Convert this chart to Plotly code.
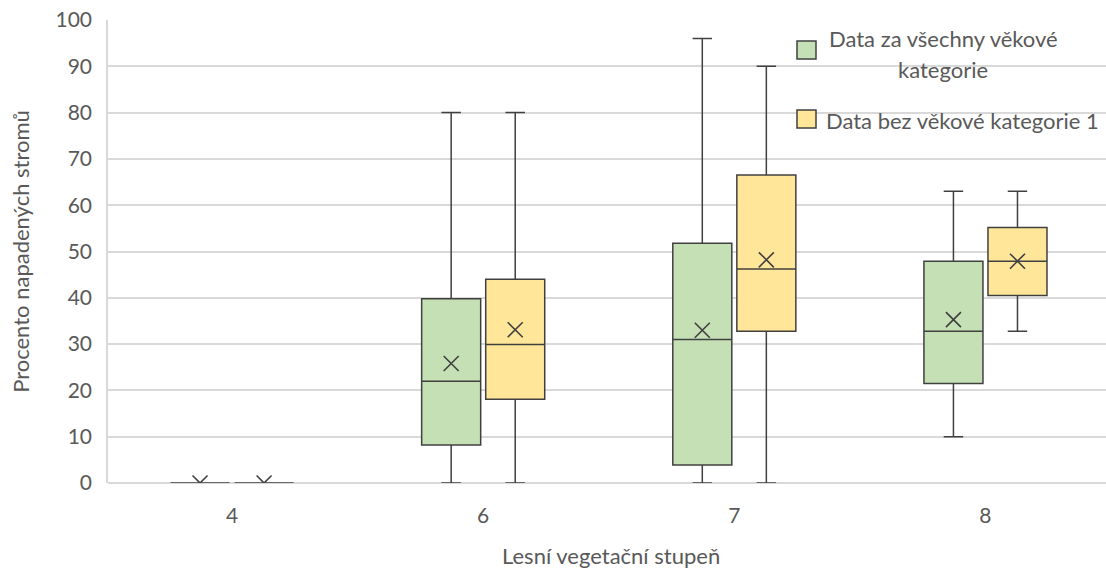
import plotly.graph_objects as go

# ---- data ----
categories = ["4", "6", "7", "8"]

all_lower = [0, 0, 0, 10]
all_q1 = [0, 8.2, 3.9, 21.5]
all_median = [0, 22.0, 31.0, 32.8]
all_q3 = [0, 39.8, 51.8, 47.9]
all_upper = [0, 80, 96, 63]
all_mean = [0, 25.8, 33.0, 35.3]

sub_lower = [0, 0, 0, 32.8]
sub_q1 = [0, 18.1, 32.8, 40.5]
sub_median = [0, 29.9, 46.2, 47.9]
sub_q3 = [0, 44.0, 66.5, 55.2]
sub_upper = [0, 80, 90, 63]
sub_mean = [0, 33.1, 48.2, 47.9]

series_names = ["Data za všechny věkové kategorie", "Data bez věkové kategorie 1"]
x_title = "Lesní vegetační stupeň"
y_title = "Procento napadených stromů"

# ---- styling ----
FONT = "Lato"
TXT = "#595959"
GRID = "#D9D9D9"
LINE = "#404040"
GREEN = "#C5E0B4"
YELLOW = "#FFE699"
FS_TICK = 21
FS_TXT = 22

W, H = 1106, 572
L, R, T, B = 108, 0, 20, 89
PW, PH = W - L - R, H - T - B

OFF = 0.1275
BW = 0.235

pos = list(range(len(categories)))
x_all = [p - OFF for p in pos]
x_sub = [p + OFF for p in pos]

fig = go.Figure()

for xs, lo, q1, me, q3, up, fill, name in [
    (x_all, all_lower, all_q1, all_median, all_q3, all_upper, GREEN, series_names[0]),
    (x_sub, sub_lower, sub_q1, sub_median, sub_q3, sub_upper, YELLOW, series_names[1]),
]:
    fig.add_trace(go.Box(
        x=xs, q1=q1, median=me, q3=q3, lowerfence=lo, upperfence=up,
        width=BW, whiskerwidth=0.33, fillcolor=fill,
        line=dict(color=LINE, width=1.5), name=name, showlegend=False,
        boxpoints=False, hoverinfo="skip",
    ))

for xs, mn in [(x_all, all_mean), (x_sub, sub_mean)]:
    fig.add_trace(go.Scatter(
        x=xs, y=mn, mode="markers", showlegend=False, hoverinfo="skip",
        cliponaxis=True,
        marker=dict(symbol="x-thin", size=15, line=dict(color=LINE, width=1.6)),
    ))

# ---- custom legend (paper coords from pixel positions) ----
def px_x(px):
    return (px - L) / PW

def px_y(py):
    return (H - B - py) / PH

shapes = []
annotations = []
for (y0, y1), fill in [((41, 59), GREEN), ((110, 128), YELLOW)]:
    shapes.append(dict(type="rect", xref="paper", yref="paper",
                       x0=px_x(797), x1=px_x(816), y0=px_y(y1), y1=px_y(y0),
                       fillcolor=fill, line=dict(color=LINE, width=1.5)))

legend_lines = [("Data za všechny věkové", 943, 38), ("kategorie", 943, 70),
                ("Data bez věkové kategorie 1", 962, 120)]
for txt, cx, cy in legend_lines:
    annotations.append(dict(text=txt, xref="paper", yref="paper",
                            x=px_x(cx), y=px_y(cy), xanchor="center", yanchor="middle",
                            showarrow=False, font=dict(family=FONT, size=FS_TXT, color=TXT)))

# x-axis title placed as an annotation (below the tick labels)
annotations.append(dict(text=x_title, xref="paper", yref="paper",
                        x=px_x(611), y=px_y(555), xanchor="center", yanchor="middle",
                        showarrow=False, font=dict(family=FONT, size=FS_TXT, color=TXT)))

fig.update_layout(
    width=W, height=H,
    margin=dict(l=L, r=R, t=T, b=B),
    paper_bgcolor="white", plot_bgcolor="white",
    font=dict(family=FONT, size=FS_TICK, color=TXT),
    shapes=shapes, annotations=annotations,
    showlegend=False,
)

fig.update_xaxes(
    range=[-0.494, 3.48], tickmode="array", tickvals=pos, ticktext=categories,
    showgrid=False, zeroline=False, showline=False, ticks="",
    ticklabelstandoff=18,
)
fig.update_yaxes(
    range=[0, 100], dtick=10, showgrid=True, gridcolor=GRID, gridwidth=1.5,
    zeroline=True, zerolinecolor=GRID, zerolinewidth=1.5,
    showline=True, linecolor=GRID, linewidth=1.5, ticks="",
    ticklabelstandoff=10,
    title=dict(text=y_title, standoff=20, font=dict(size=FS_TXT, color=TXT)),
)

fig.write_html("out.html", config={"displayModeBar": False},
               post_script="document.body.style.margin='0';")
